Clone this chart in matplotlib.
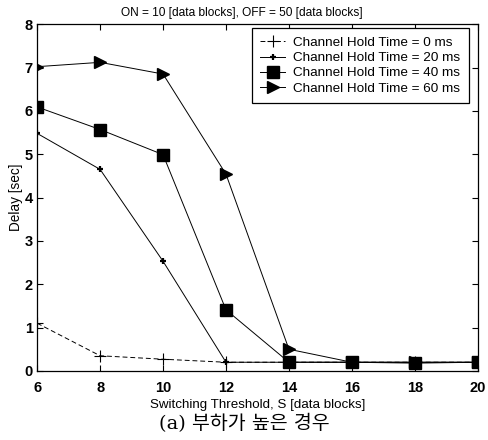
import matplotlib
matplotlib.use("Agg")
import matplotlib.pyplot as plt

thresholds = [6, 8, 10, 12, 14, 16, 18, 20]
delay_0ms = [1.10, 0.35, 0.27, 0.20, 0.20, 0.20, 0.20, 0.20]
delay_20ms = [5.48, 4.65, 2.53, 0.20, 0.20, 0.20, 0.20, 0.20]
delay_40ms = [6.09, 5.57, 4.99, 1.41, 0.20, 0.20, 0.18, 0.20]
delay_60ms = [7.02, 7.12, 6.85, 4.54, 0.50, 0.20, 0.20, 0.20]
labels = ["Channel Hold Time = 0 ms", "Channel Hold Time = 20 ms",
          "Channel Hold Time = 40 ms", "Channel Hold Time = 60 ms"]
xticks = [6, 8, 10, 12, 14, 16, 18, 20]
yticks = [0, 1, 2, 3, 4, 5, 6, 7, 8]

plt.rcParams['font.family'] = ['Liberation Sans', 'DejaVu Sans']

fig = plt.figure(figsize=(4.89, 4.40), dpi=100)
ax = fig.add_axes([0.076, 0.157, 0.901, 0.788])

ax.plot(thresholds, delay_0ms, color='black', lw=0.7, ls=(0, (5, 3)),
        marker='+', ms=9, mew=0.8, label=labels[0])
ax.plot(thresholds, delay_20ms, color='black', lw=0.7,
        marker='+', ms=5, mew=1.6, label=labels[1])
ax.plot(thresholds, delay_40ms, color='black', lw=0.7,
        marker='s', ms=8, label=labels[2])
ax.plot(thresholds, delay_60ms, color='black', lw=0.7,
        marker='>', ms=8, label=labels[3])

ax.set_xlim(6, 20)
ax.set_ylim(0, 8)
ax.set_xticks(xticks)
ax.set_yticks(yticks)
ax.tick_params(direction='in', top=True, right=True, length=4, width=0.8,
               labelsize=10.5)
ax.tick_params(axis='x', pad=7)
ax.tick_params(axis='y', pad=3)
for lab in ax.get_xticklabels() + ax.get_yticklabels():
    lab.set_fontweight('bold')
for sp in ax.spines.values():
    sp.set_linewidth(0.9)

fig.text(0.495, 0.970, "ON = 10 [data blocks], OFF = 50 [data blocks]",
         ha='center', va='center', fontsize=8.6)
ax.set_xlabel("Switching Threshold, S [data blocks]", fontsize=9.6, labelpad=3)
ax.set_ylabel("Delay [sec]", fontsize=9.8, labelpad=1)

leg = ax.legend(loc='upper right', bbox_to_anchor=(0.9796, 0.988),
                fontsize=9.7, frameon=True, fancybox=False,
                edgecolor='black', framealpha=1, handlelength=1.85,
                borderpad=0.62, labelspacing=0.2, handletextpad=0.6,
                borderaxespad=0.0)
leg.get_frame().set_linewidth(0.9)

fig.text(0.5, 0.016, "(a) 부하가 높은 경우", ha='center', va='bottom', fontsize=14,
         family=['DejaVu Serif', 'Noto Sans CJK KR'])

fig.savefig("out.png", dpi=100, facecolor='white')
